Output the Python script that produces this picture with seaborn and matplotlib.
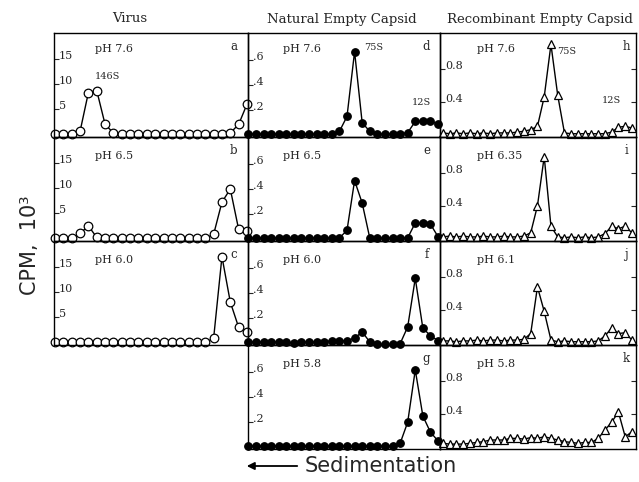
import numpy as np
import pandas as pd
import seaborn as sns
import matplotlib.pyplot as plt
from matplotlib.patches import FancyArrowPatch

sns.set_style("ticks")
plt.rcParams['font.family'] = ['DejaVu Serif']

# ---------------- data (CPM per fraction) ----------------
virus_a = [0, 0, 0, 0.6, 8.3, 8.7, 2.0, 0.3, 0, 0, 0, 0, 0, 0, 0, 0, 0, 0, 0, 0, 0, 0.3, 2.0, 6.0]
virus_b = [0, 0, 0, 1.0, 2.5, 0.2, 0, 0, 0, 0, 0, 0, 0, 0, 0, 0, 0, 0, 0, 0.8, 7.2, 9.8, 1.8, 1.4]
virus_c = [0, 0, 0, 0, 0, 0, 0, 0, 0, 0, 0, 0, 0, 0, 0, 0, 0, 0, 0, 0.8, 17.0, 8.0, 3.0, 2.0]

natural_d = [0.01, 0.01, 0.01, 0.01, 0.01, 0.01, 0.01, 0.01, 0.01, 0.01, 0.01, 0.01, 0.03, 0.15,
             0.67, 0.10, 0.03, 0.01, 0.01, 0.01, 0.01, 0.02, 0.11, 0.11, 0.11, 0.09]
natural_e = [0.01, 0.01, 0.01, 0.01, 0.01, 0.01, 0.01, 0.01, 0.01, 0.01, 0.01, 0.01, 0.01, 0.07,
             0.47, 0.29, 0.01, 0.01, 0.01, 0.01, 0.01, 0.01, 0.13, 0.13, 0.12, 0.02]
natural_f = [0.01, 0.01, 0.01, 0.01, 0.01, 0.01, 0.0, 0.01, 0.01, 0.01, 0.01, 0.02, 0.02, 0.02,
             0.04, 0.09, 0.01, -0.01, -0.01, -0.01, -0.005, 0.13, 0.52, 0.12, 0.06, 0.02]
natural_g = [0.01, 0.01, 0.01, 0.01, 0.01, 0.01, 0.01, 0.01, 0.01, 0.01, 0.01, 0.01, 0.01, 0.01,
             0.01, 0.01, 0.01, 0.01, 0.01, 0.01, 0.03, 0.20, 0.62, 0.25, 0.12, 0.05]

recomb_h = [0.02, 0.01, 0.02, 0.01, 0.02, 0.01, 0.02, 0.01, 0.02, 0.02, 0.02, 0.03, 0.04, 0.06,
            0.10, 0.46, 1.10, 0.48, 0.02, 0.01, 0.01, 0.01, 0.01, 0.01, 0.01, 0.03, 0.09, 0.10, 0.08]
recomb_i = [0.02, 0.03, 0.02, 0.03, 0.02, 0.02, 0.03, 0.02, 0.02, 0.03, 0.02, 0.02, 0.03, 0.07,
            0.40, 1.00, 0.15, 0.02, 0.01, 0.02, 0.01, 0.02, 0.01, 0.02, 0.06, 0.15, 0.12, 0.15, 0.07]
recomb_j = [0.02, 0.02, 0.01, 0.02, 0.02, 0.03, 0.02, 0.03, 0.03, 0.02, 0.03, 0.03, 0.04, 0.11,
            0.68, 0.38, 0.03, 0.01, 0.02, 0.01, 0.01, 0.01, 0.01, 0.02, 0.08, 0.18, 0.11, 0.12, 0.03]
recomb_k = [0.04, 0.03, 0.03, 0.03, 0.04, 0.05, 0.06, 0.08, 0.08, 0.08, 0.10, 0.10, 0.09, 0.11,
            0.10, 0.12, 0.10, 0.08, 0.06, 0.05, 0.04, 0.05, 0.05, 0.10, 0.20, 0.30, 0.42, 0.12, 0.18]

col_titles = ["Virus", "Natural Empty Capsid", "Recombinant Empty Capsid"]
ph_labels = {"a": "pH 7.6", "b": "pH 6.5", "c": "pH 6.0",
             "d": "pH 7.6", "e": "pH 6.5", "f": "pH 6.0", "g": "pH 5.8",
             "h": "pH 7.6", "i": "pH 6.35", "j": "pH 6.1", "k": "pH 5.8"}
virus_ticks = [5, 10, 15]
virus_ticklabels = ["5", "10", "15"]
natural_ticks = [0.2, 0.4, 0.6]
natural_ticklabels = [".2", ".4", ".6"]
recomb_ticks = [0.4, 0.8]
recomb_ticklabels = ["0.4", "0.8"]

# ---------------- layout ----------------
W, H = 639, 482
fig = plt.figure(figsize=(W / 100, H / 100), dpi=100)
cols = [(54, 248), (248, 440), (440, 636)]
rows = [(33, 137), (137, 241), (241, 345), (345, 449)]


def add_ax(c, r):
    x0, x1 = cols[c]
    y0, y1 = rows[r]
    return fig.add_axes([x0 / W, 1 - y1 / H, (x1 - x0) / W, (y1 - y0) / H])


panels = [
    (0, 0, virus_a, "a"), (0, 1, virus_b, "b"), (0, 2, virus_c, "c"),
    (1, 0, natural_d, "d"), (1, 1, natural_e, "e"), (1, 2, natural_f, "f"), (1, 3, natural_g, "g"),
    (2, 0, recomb_h, "h"), (2, 1, recomb_i, "i"), (2, 2, recomb_j, "j"), (2, 3, recomb_k, "k"),
]

style = {
    0: dict(marker="o", markersize=6.2, markerfacecolor="white"),
    1: dict(marker="o", markersize=5.4, markerfacecolor="black"),
    2: dict(marker="^", markersize=6.2, markerfacecolor="white"),
}
ylims = {0: (-0.5, 20.1), 1: (-0.015, 0.82), 2: (-0.03, 1.24)}
xlims = {0: (-0.12, 23.12), 1: (-0.05, 25.26), 2: (-0.44, 28.6)}
yt = {0: (virus_ticks, virus_ticklabels), 1: (natural_ticks, natural_ticklabels),
      2: (recomb_ticks, recomb_ticklabels)}
letter_x = {0: 0.925, 1: 0.93, 2: 0.95}
ph_x = {0: 0.21, 1: 0.18, 2: 0.19}

axes = {}
for c, r, data, letter in panels:
    ax = add_ax(c, r)
    axes[letter] = ax
    df = pd.DataFrame({"fraction": np.arange(len(data)), "cpm": data})
    sns.lineplot(data=df, x="fraction", y="cpm", ax=ax, color="black", lw=1.0,
                 markeredgecolor="black", markeredgewidth=0.9, clip_on=False,
                 sort=False, **style[c])
    ax.set_xlim(*xlims[c])
    ax.set_ylim(*ylims[c])
    ax.set_xlabel("")
    ax.set_ylabel("")
    ax.set_xticks([])
    ticks, labels = yt[c]
    ax.set_yticks(ticks)
    ax.set_yticklabels(labels, fontsize=8)
    ax.tick_params(axis="y", direction="in", length=3.5, width=0.8, pad=-3.5,
                   right=(c == 2), labelright=False)
    for t in ax.get_yticklabels():
        t.set_horizontalalignment("left")
        t.set_verticalalignment("baseline")
    for s in ax.spines.values():
        s.set_linewidth(1.0)
        s.set_color("black")
    ax.patch.set_alpha(0)
    ytxt = 0.85 if r == 0 else 0.82
    ax.text(ph_x[c], ytxt, ph_labels[letter], transform=ax.transAxes, fontsize=8,
            ha="left", va="center")
    ax.text(letter_x[c], 0.87, letter, transform=ax.transAxes, fontsize=8.5,
            ha="center", va="center")

# sedimentation coefficient labels
axes["a"].text(4.8, 11.5, "146S", fontsize=7, ha="left", va="center")
axes["d"].text(15.3, 0.70, "75S", fontsize=7, ha="left", va="center")
axes["d"].text(21.6, 0.26, "12S", fontsize=7, ha="left", va="center")
axes["h"].text(16.9, 1.02, "75S", fontsize=7, ha="left", va="center")
axes["h"].text(23.6, 0.41, "12S", fontsize=7, ha="left", va="center")

# column titles
title_x = [130, 342, 540]
for tx, t in zip(title_x, col_titles):
    fig.text(tx / W, 1 - 19 / H, t, fontsize=9.5, ha="center", va="center")

# y label
fig.text(30 / W, 1 - 245 / H, "CPM,  10\u00b3", rotation=90, fontsize=15,
         ha="center", va="center", family="DejaVu Sans")

# sedimentation arrow
ys = 1 - 466 / H
fig.add_artist(FancyArrowPatch((300 / W, ys), (244 / W, ys), transform=fig.transFigure,
                               arrowstyle="-|>", mutation_scale=11, lw=1.3, color="black"))
fig.text(305 / W, ys, "Sedimentation", fontsize=15, ha="left", va="center",
         family="DejaVu Sans")

fig.savefig("out.png", dpi=100)
